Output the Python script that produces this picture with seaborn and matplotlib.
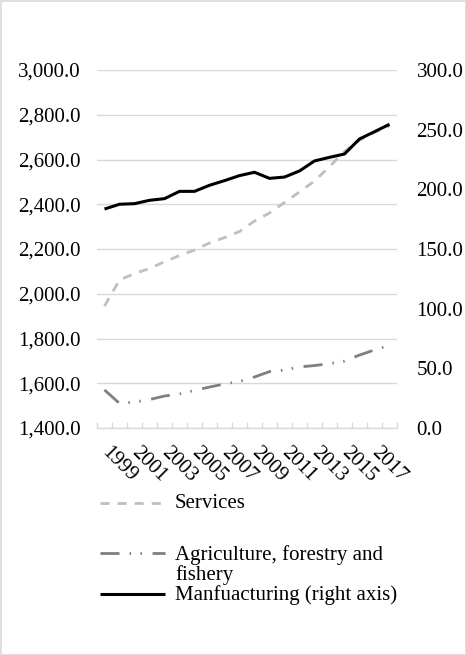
import matplotlib
matplotlib.use("Agg")
import matplotlib.pyplot as plt
import seaborn as sns
import numpy as np
from matplotlib.lines import Line2D
from matplotlib.patches import Rectangle
from matplotlib.ticker import FuncFormatter

# ---- data ----
years = list(range(1999, 2019))
services = [1945, 2062, 2090, 2113, 2143, 2171, 2195, 2227, 2251, 2278,
            2325, 2361, 2408, 2455, 2504, 2568, 2636, 2686, 2722, 2750]
agriculture = [1570, 1510, 1516, 1527, 1543, 1552, 1568, 1583, 1597, 1608,
               1628, 1652, 1659, 1673, 1679, 1688, 1699, 1726, 1749, 1769]
manufacturing = [183.5, 187.5, 188.0, 190.8, 192.2, 198.3, 198.3, 203.4, 207.3, 211.5,
                 214.3, 209.2, 210.3, 215.4, 223.8, 226.8, 229.6, 242.2, 248.3, 254.5]
labels = ["Services", "Agriculture, forestry and\nfishery", "Manfuacturing (right axis)"]

sns.set_theme(style="white")
plt.rcParams["font.family"] = ["Liberation Serif", "DejaVu Serif"]
plt.rcParams["lines.scale_dashes"] = False

W, H = 466, 655
fig = plt.figure(figsize=(W / 100, H / 100), dpi=100)
fig.patch.set_facecolor("white")

ax = fig.add_axes([97 / W, 1 - 428 / H, 300 / W, 358 / H])
ax2 = ax.twinx()

pos = np.arange(len(years))
grid_c = "#d9d9d9"
serv_c, agri_c, manu_c = "#bfbfbf", "#7f7f7f", "#000000"
serv_dash = (6.5, 5.8)
agri_dash = (13.7, 7.2, 1.1, 6.8, 1.1, 7.6)

sns.lineplot(x=pos, y=services, ax=ax, color=serv_c, linewidth=2.0)
sns.lineplot(x=pos, y=agriculture, ax=ax, color=agri_c, linewidth=2.0)
sns.lineplot(x=pos, y=manufacturing, ax=ax2, color=manu_c, linewidth=2.2)
ax.lines[0].set_dashes(serv_dash)
ax.lines[1].set_dashes(agri_dash)
for ln in ax.lines + ax2.lines:
    ln.set_solid_capstyle("butt")
    ln.set_dash_capstyle("butt")
    ln.set_solid_joinstyle("round")

ax.set_xlim(-0.5, len(years) - 0.5)
ax.set_ylim(1400, 3000)
ax2.set_ylim(0, 300)
ax.set_yticks(np.arange(1400, 3001, 200))
ax2.set_yticks(np.arange(0, 301, 50))
ax.yaxis.set_major_formatter(FuncFormatter(lambda v, p: f"{v:,.1f}"))
ax2.yaxis.set_major_formatter(FuncFormatter(lambda v, p: f"{v:.1f}"))

ax.yaxis.grid(True, color=grid_c, linewidth=1.0)
ax.xaxis.grid(False)
ax2.grid(False)
for s in ["top", "left", "right"]:
    ax.spines[s].set_visible(False)
for s in ax2.spines.values():
    s.set_visible(False)
ax.spines["bottom"].set_color(grid_c)
ax.spines["bottom"].set_linewidth(1.0)

ax.set_xticks(pos[::2])
ax.set_xticklabels([str(y) for y in years[::2]])
ax.set_xticks(np.arange(-0.5, len(years), 1), minor=True)
ax.tick_params(axis="x", which="major", length=0, pad=16, labelsize=15, labelcolor="black")
ax.tick_params(axis="x", which="minor", direction="in", length=4, width=1, color=grid_c, bottom=True)
ax.tick_params(axis="y", length=0, pad=12, labelsize=15, labelcolor="black")
ax2.tick_params(axis="y", length=0, pad=14, labelsize=15, labelcolor="black")
for lab in ax.get_xticklabels():
    lab.set_rotation(-45)
    lab.set_ha("left")
    lab.set_va("center")
    lab.set_rotation_mode("anchor")

ax.set_xlabel("")
ax.set_ylabel("")
ax2.set_ylabel("")

# ---- legend below the plot ----
def fx(px):
    return px / W

def fy(py):
    return 1 - py / H

entries = [
    (serv_c, serv_dash, 2.0, 503, 503),
    (agri_c, agri_dash, 2.0, 553, 565),
    (manu_c, None, 2.2, 594, 595),
]
for (c, d, lw, ly, ty), lab in zip(entries, labels):
    ln = Line2D([fx(100), fx(165)], [fy(ly), fy(ly)], transform=fig.transFigure,
                color=c, linewidth=lw, solid_capstyle="butt", dash_capstyle="butt")
    if d is not None:
        ln.set_dashes(d)
    fig.add_artist(ln)
    fig.text(fx(175), fy(ty), lab, fontsize=15, color="black", va="center", ha="left",
             linespacing=1.0)

fig.add_artist(Rectangle((0.5 / W, 0.5 / H), 1 - 1 / W, 1 - 1 / H, transform=fig.transFigure,
                         fill=False, edgecolor=grid_c, linewidth=1.2))

fig.savefig("out.png", dpi=100)
